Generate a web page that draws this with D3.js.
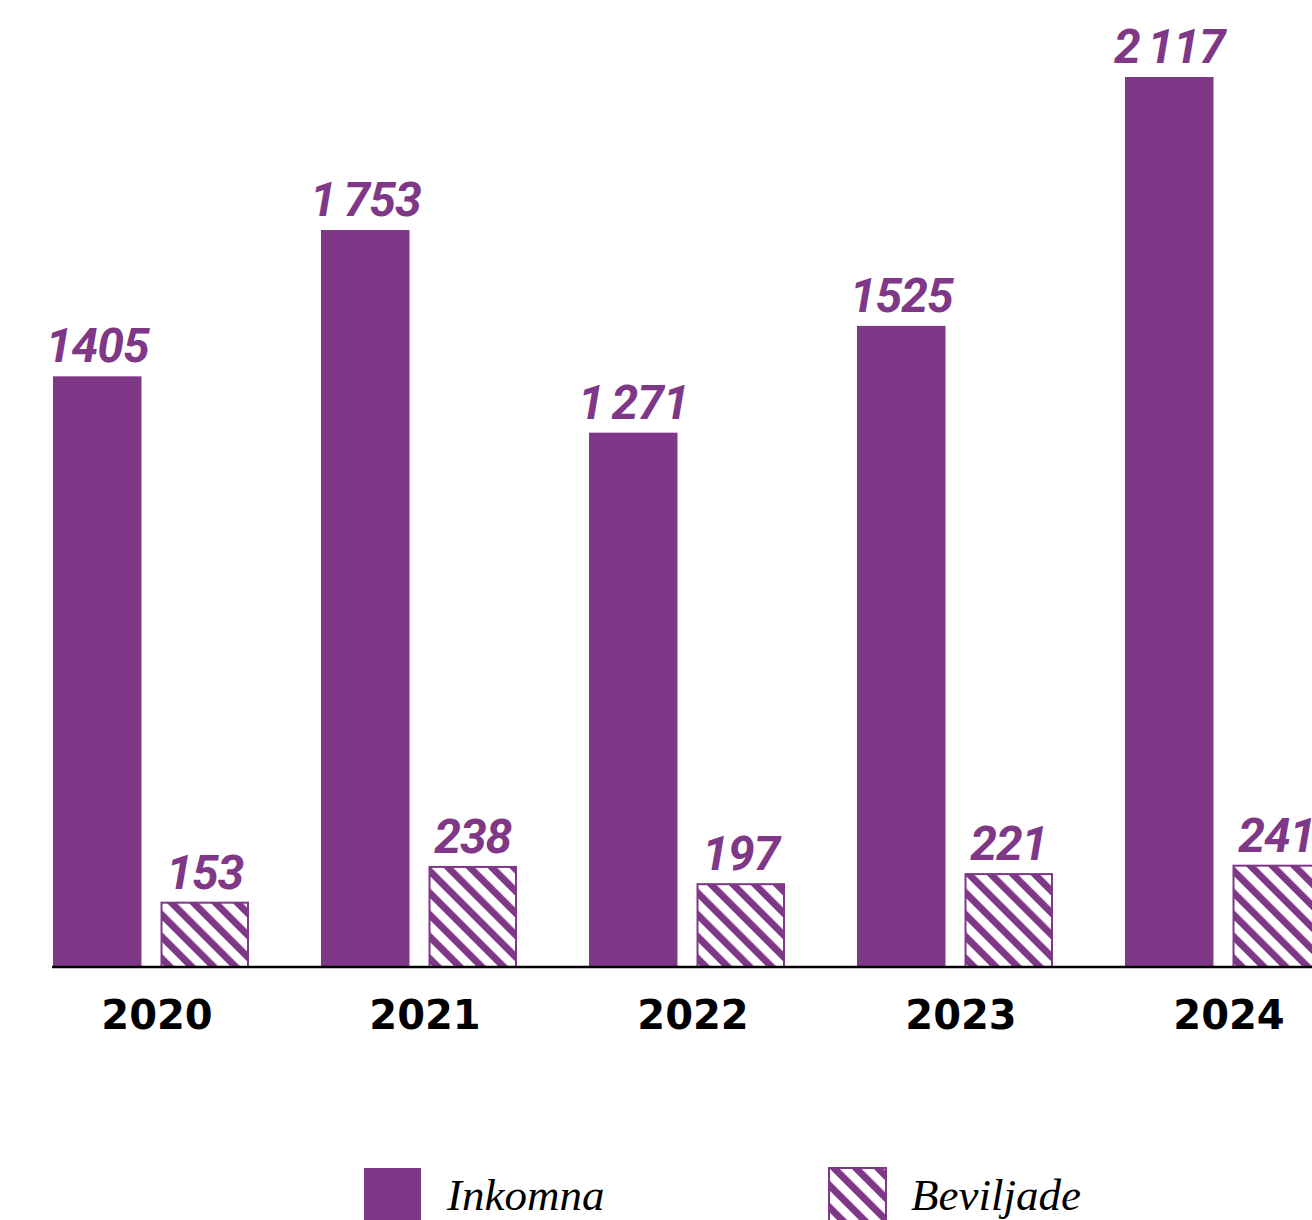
<!DOCTYPE html>
<html>
<head>
<meta charset="utf-8">
<script src="https://cdn.jsdelivr.net/npm/d3@7"></script>
<style>
  body { margin: 0; background: #fff; }
  .val { font-family: Roboto, sans-serif; font-weight: 700; font-style: italic; font-size: 48px; fill: #7f3787; }
  .x-axis text { font-family: "DejaVu Sans", sans-serif; font-weight: 700; font-size: 40px; fill: #000; }
  .legend text { font-family: "Liberation Serif", serif; font-style: italic; font-size: 45px; fill: #000; }
</style>
</head>
<body>
<svg id="chart"></svg>
<script>
const years = ["2020", "2021", "2022", "2023", "2024"];
const series = ["Inkomna", "Beviljade"];
const inkomna = [1405, 1753, 1271, 1525, 2117];
const beviljade = [153, 238, 197, 221, 241];
const valueLabels = {
  Inkomna: ["1405", "1 753", "1 271", "1525", "2 117"],
  Beviljade: ["153", "238", "197", "221", "241"]
};

const width = 1312, height = 1220;
const purple = "#7f3787";

const svg = d3.select("#chart")
    .attr("width", width)
    .attr("height", height);

const defs = svg.append("defs");
const pat = defs.append("pattern")
    .attr("id", "hatch")
    .attr("patternUnits", "userSpaceOnUse")
    .attr("width", 15.5)
    .attr("height", 15.5)
    .attr("patternTransform", "rotate(-45)");
pat.append("rect").attr("width", 15.5).attr("height", 15.5).attr("fill", "#fff");
pat.append("rect").attr("width", 7).attr("height", 15.5).attr("fill", purple);

const data = years.map((y, i) => ({
    year: y,
    values: [
        { key: "Inkomna", value: inkomna[i], label: valueLabels.Inkomna[i] },
        { key: "Beviljade", value: beviljade[i], label: valueLabels.Beviljade[i] }
    ]
}));

// step of 268px between groups, 72px gap
const x0 = d3.scaleBand()
    .domain(years)
    .range([53, 53 + 268 * (5 - 72 / 268)])
    .paddingInner(72 / 268)
    .paddingOuter(0);

const x1 = d3.scaleBand()
    .domain(series)
    .range([0, x0.bandwidth()])
    .paddingInner(0.177);

const y = d3.scaleLinear()
    .domain([0, 2117])
    .range([967, 77]);

const groups = svg.selectAll(".group")
    .data(data)
    .enter().append("g")
    .attr("class", "group")
    .attr("transform", d => `translate(${x0(d.year)},0)`);

groups.selectAll("rect")
    .data(d => d.values)
    .enter().append("rect")
    .attr("x", d => x1(d.key) + (d.key === "Beviljade" ? 1 : 0))
    .attr("y", d => y(d.value))
    .attr("width", d => x1.bandwidth() - (d.key === "Beviljade" ? 2 : 0))
    .attr("height", d => y(0) - y(d.value))
    .attr("fill", d => d.key === "Inkomna" ? purple : "url(#hatch)")
    .attr("stroke", d => d.key === "Inkomna" ? "none" : purple)
    .attr("stroke-width", 2);

groups.selectAll("text")
    .data(d => d.values)
    .enter().append("text")
    .attr("class", "val")
    .attr("x", d => x1(d.key) + x1.bandwidth() / 2)
    .attr("y", d => y(d.value) - 14)
    .attr("text-anchor", "middle")
    .attr("letter-spacing", "-1")
    .attr("word-spacing", "-3")
    .text(d => d.label);

// x axis
const xAxis = svg.append("g")
    .attr("class", "x-axis")
    .attr("transform", `translate(0,${y(0)})`)
    .call(d3.axisBottom(x0).tickSize(0).tickPadding(34));

xAxis.select(".domain")
    .attr("stroke", "#000")
    .attr("stroke-width", 2.5)
    .attr("d", `M52,0H${width}`);

xAxis.selectAll("text")
    .attr("font-family", null)
    .attr("font-size", null)
    .attr("dx", 6);

// legend
const legend = svg.append("g").attr("class", "legend");
const legendItems = [
    { key: "Inkomna", x: 364 },
    { key: "Beviljade", x: 828 }
];
const li = legend.selectAll("g")
    .data(legendItems)
    .enter().append("g")
    .attr("transform", d => `translate(${d.x},1167)`);

li.append("rect")
    .attr("x", d => d.key === "Inkomna" ? 0 : 1)
    .attr("y", 1)
    .attr("width", 57)
    .attr("height", 54)
    .attr("fill", d => d.key === "Inkomna" ? purple : "url(#hatch)")
    .attr("stroke", d => d.key === "Inkomna" ? "none" : purple)
    .attr("stroke-width", 2);

li.append("text")
    .attr("x", 83)
    .attr("y", 43)
    .text(d => d.key);
</script>
</body>
</html>
